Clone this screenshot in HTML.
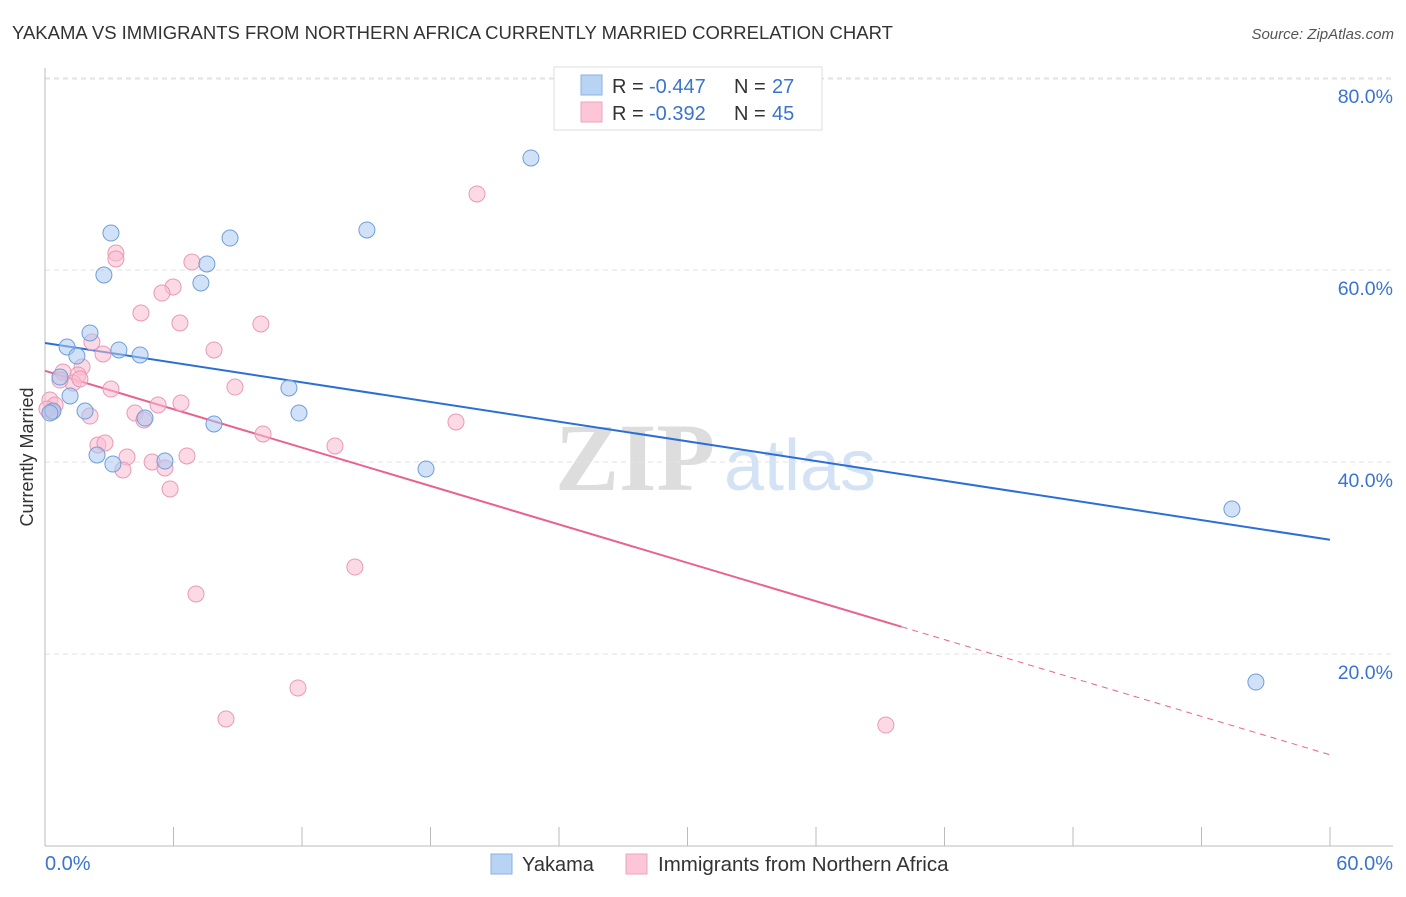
<!DOCTYPE html>
<html><head><meta charset="utf-8"><style>
body{margin:0;background:#fff;font-family:"Liberation Sans",sans-serif;}
svg text{font-family:"Liberation Sans",sans-serif;}
</style></head><body>
<svg id="chart" width="1406" height="892">
<text x="12" y="39" font-size="18.5" fill="#333">YAKAMA VS IMMIGRANTS FROM NORTHERN AFRICA CURRENTLY MARRIED CORRELATION CHART</text>
<text x="1394" y="39" font-size="15" fill="#555" font-style="italic" text-anchor="end">Source: ZipAtlas.com</text>
<text transform="translate(33,457) rotate(-90)" font-size="18" fill="#333" text-anchor="middle">Currently Married</text>
<g>
<text x="635" y="490" font-size="96" fill="#ddd" text-anchor="middle" font-weight="bold" style="font-family:'Liberation Serif',serif">ZIP</text>
<text x="800" y="490" font-size="72" fill="#d4e2f5" text-anchor="middle">atlas</text>
</g>
<g id="grid"></g><g id="axes"></g><g id="lines"></g><g id="pts"></g>
<g>
<rect x="554" y="67" width="268" height="63" fill="#fff" stroke="#ddd"/>
<rect x="581" y="75" width="21" height="20" fill="#b8d3f4" stroke="#8ab0e0"/>
<rect x="581" y="102" width="21" height="20" fill="#fcc6d6" stroke="#eea4bc"/>
<text x="612" y="93" font-size="20" fill="#333">R =</text>
<text x="649" y="93" font-size="20" fill="#3a74d0">-0.447</text>
<text x="734" y="93" font-size="20" fill="#333">N =</text>
<text x="772" y="93" font-size="20" fill="#3a74d0">27</text>
<text x="612" y="120" font-size="20" fill="#333">R =</text>
<text x="649" y="120" font-size="20" fill="#3a74d0">-0.392</text>
<text x="734" y="120" font-size="20" fill="#333">N =</text>
<text x="772" y="120" font-size="20" fill="#3a74d0">45</text>
</g>
<g>
<rect x="491" y="854" width="21" height="20" fill="#b8d3f4" stroke="#8ab0e0"/>
<text x="522" y="871" font-size="20" fill="#333">Yakama</text>
<rect x="626" y="854" width="21" height="20" fill="#fcc6d6" stroke="#eea4bc"/>
<text x="658" y="871" font-size="20.5" fill="#333">Immigrants from Northern Africa</text>
</g>
</svg>
<script>
const yTicks=[20,40,60,80];
const yTickLabels=["20.0%","40.0%","60.0%","80.0%"];
const xTicks=[0,6,12,18,24,30,36,42,48,54,60];
const xLabels=["0.0%","60.0%"];
const blueX=[22.69,3.08,8.64,15.03,2.75,7.56,7.28,2.10,1.03,3.45,4.44,1.49,0.70,1.17,0.37,1.87,4.67,7.89,11.39,11.86,2.43,3.17,5.60,17.79,55.42,56.54,0.23];
const blueY=[71.67,63.85,63.33,64.17,59.48,60.63,58.65,53.44,51.98,51.67,51.15,51.04,48.85,46.88,45.31,45.31,44.58,43.96,47.71,45.10,40.73,39.79,40.10,39.27,35.10,17.08,45.10];
const pinkX=[20.17,3.31,3.31,6.86,5.98,5.46,4.48,6.30,10.08,2.19,7.89,2.71,1.73,1.54,0.84,1.31,0.70,3.08,8.87,0.23,0.47,0.09,0.33,2.10,4.20,5.28,6.35,4.62,10.18,19.19,2.47,2.80,13.54,3.83,6.63,5.00,5.60,3.64,5.84,14.47,7.05,11.81,8.45,39.26,1.63];
const pinkY=[67.92,61.77,61.15,60.83,58.23,57.60,55.52,54.48,54.38,52.50,51.67,51.25,49.90,49.06,49.38,48.23,48.54,47.60,47.81,46.46,45.94,45.52,45.21,44.79,45.10,45.94,46.15,44.38,42.92,44.17,41.77,41.98,41.67,40.52,40.63,40.00,39.38,39.17,37.19,29.06,26.25,16.46,13.23,12.60,48.65];
const blueTrend=[52.4,31.9];
const pinkTrend=[49.5,9.5];
const pinkSolidEnd=40;
const X=v=>45+v*(1285/60), Y=v=>846-v*9.6;
const NS="http://www.w3.org/2000/svg";
function mk(p,t,a){const e=document.createElementNS(NS,t);for(const k in a)e.setAttribute(k,a[k]);p.appendChild(e);return e;}
const grid=document.getElementById('grid'),axes=document.getElementById('axes'),lines=document.getElementById('lines'),pts=document.getElementById('pts');
yTicks.forEach((t,i)=>{
 const l=mk(grid,'line',{x1:45,x2:1393,y1:Y(t),y2:Y(t),stroke:'#e2e2e2','stroke-dasharray':'5,4'});
 
 
 const tx=mk(grid,'text',{x:1393,y:Y(t)+25,'font-size':19.5,fill:'#3a74d0','text-anchor':'end'});
 tx.textContent=yTickLabels[i];
 
 
});
mk(grid,'line',{x1:45,x2:1393,y1:79,y2:79,stroke:'#e2e2e2','stroke-dasharray':'5,4'});
const ya=mk(axes,'line',{x1:45,x2:45,y1:68,y2:846,stroke:'#bbb'});


const xa=mk(axes,'line',{x1:45,x2:1393,y1:846,y2:846,stroke:'#bbb'});


xTicks.forEach(t=>{const l=mk(axes,'line',{x1:X(t),x2:X(t),y1:827,y2:846,stroke:'#bbb'});
 
 });
const xl0=mk(axes,'text',{x:45,y:870,'font-size':20,fill:'#3a74d0'});xl0.textContent=xLabels[0];


const xl1=mk(axes,'text',{x:1393,y:870,'font-size':20,fill:'#3a74d0','text-anchor':'end'});xl1.textContent=xLabels[1];


function drawPts(xs,ys,fill,stroke,name){xs.forEach((x,i)=>{const c=mk(pts,'circle',{cx:X(x),cy:Y(ys[i]),r:8,fill:fill,'fill-opacity':0.55,stroke:stroke,'stroke-width':1});
 
 });}
drawPts(pinkX,pinkY,'#f9bcd0','#e89ab5','point-immigrants');
drawPts(blueX,blueY,'#abc9f1','#6f9fd8','point-yakama');
const tb=mk(lines,'line',{x1:X(0),y1:Y(blueTrend[0]),x2:X(60),y2:Y(blueTrend[1]),stroke:'#2b6fd6','stroke-width':2});


const pm=pinkTrend[0]+(pinkTrend[1]-pinkTrend[0])*pinkSolidEnd/60;
const tp=mk(lines,'line',{x1:X(0),y1:Y(pinkTrend[0]),x2:X(pinkSolidEnd),y2:Y(pm),stroke:'#e8628f','stroke-width':2});


const td=mk(lines,'line',{x1:X(pinkSolidEnd),y1:Y(pm),x2:X(60),y2:Y(pinkTrend[1]),stroke:'#e8628f','stroke-width':1,'stroke-dasharray':'6,5'});


</script>
</body></html>
